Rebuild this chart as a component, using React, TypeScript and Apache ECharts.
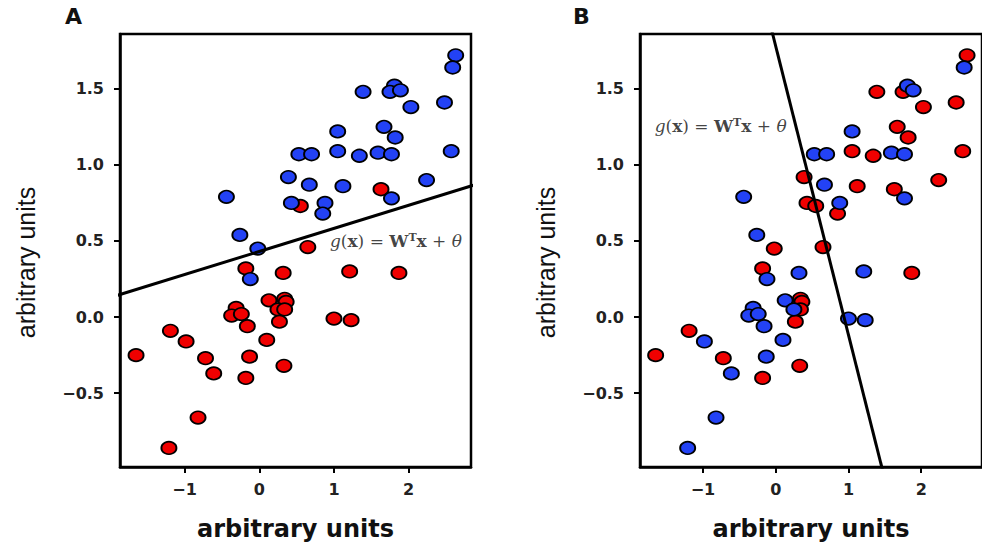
import React, { useEffect, useRef } from "react";
import * as echarts from "echarts";

// point coordinates (same points in both panels)
const xs = [
  2.63, 2.59, 1.39, 1.81, 1.75, 1.89, 2.48, 2.03, 1.05, 1.67, 1.82, 0.53, 0.70, 1.05, 1.34, 1.59, 1.77, 2.57,
  0.39, 0.67, 1.12, 2.24, 1.63, 1.77, -0.44, 0.43, 0.55, 0.88, 0.85, -0.26, -0.02, 0.65, -0.18, -0.12, 0.32,
  1.21, 1.87, 0.13, 0.34, 0.36, 0.25, 0.34, -0.31, -0.37, -0.24, -0.16, 0.27, 1.00, 1.23, -1.19, -0.98, -1.65,
  -0.72, -0.13, 0.10, -0.61, -0.18, 0.33, -0.82, -1.21,
];
const ys = [
  1.72, 1.64, 1.48, 1.52, 1.48, 1.49, 1.41, 1.38, 1.22, 1.25, 1.18, 1.07, 1.07, 1.09, 1.06, 1.08, 1.07, 1.09,
  0.92, 0.87, 0.86, 0.90, 0.84, 0.78, 0.79, 0.75, 0.73, 0.75, 0.68, 0.54, 0.45, 0.46, 0.32, 0.25, 0.29,
  0.30, 0.29, 0.11, 0.12, 0.10, 0.05, 0.05, 0.06, 0.01, 0.02, -0.06, -0.03, -0.01, -0.02, -0.09, -0.16, -0.25,
  -0.27, -0.26, -0.15, -0.37, -0.40, -0.32, -0.66, -0.86,
];
// class of each point in panel A and in panel B
const classA = [
  "b", "b", "b", "b", "b", "b", "b", "b", "b", "b", "b", "b", "b", "b", "b", "b", "b", "b",
  "b", "b", "b", "b", "r", "b", "b", "b", "r", "b", "b", "b", "b", "r", "r", "b", "r",
  "r", "r", "r", "r", "r", "r", "r", "r", "r", "r", "r", "r", "r", "r", "r", "r", "r",
  "r", "r", "r", "r", "r", "r", "r", "r",
];
const classB = [
  "r", "b", "r", "b", "r", "b", "r", "r", "b", "r", "r", "b", "b", "r", "r", "b", "b", "r",
  "r", "b", "r", "r", "r", "b", "b", "r", "r", "b", "r", "b", "r", "r", "r", "b", "b",
  "b", "r", "b", "r", "r", "b", "r", "b", "b", "b", "b", "r", "b", "b", "r", "b", "r",
  "r", "b", "b", "b", "r", "r", "b", "b",
];

// decision lines (end points)
const lineA = [[-2.0, 0.128], [3.0, 0.886]];
const lineB = [[-0.116, 2.0], [1.518, -1.1]];
// formula anchors
const noteA = [0.94, 0.5];
const noteB = [-1.67, 1.257];

const xTicks = [-1, 0, 1, 2];
const yTicks = [-0.5, 0, 0.5, 1, 1.5];
const xMin = -1.865, xMax = 2.835, yMin = -0.985, yMax = 1.86;
const panelLetters = ["A", "B"];
const axisTitle = "arbitrary units";

const RED = "#f00000";
const BLUE = "#2342f5";

export default function App() {
  const ref = useRef<HTMLDivElement>(null);
  useEffect(() => {
    if (!ref.current) return;
    const chart = echarts.init(ref.current, null, { renderer: "svg" });
    const lefts = [120, 640];
    const grids = lefts.map((l) => ({
      left: l, top: 34, width: 351, height: 437, show: true,
      borderColor: "#000", borderWidth: 2.5, backgroundColor: "transparent",
    }));
    const xAxes = lefts.map((_, i) => ({
      type: "value", gridIndex: i, min: xMin, max: xMax,
      axisLine: { show: true, onZero: false, lineStyle: { color: "#000", width: 2.5 } },
      axisTick: { show: true, length: 6, lineStyle: { color: "#000", width: 2 }, customValues: xTicks },
      axisLabel: {
        customValues: xTicks, margin: 14, fontFamily: "DejaVu Sans", fontWeight: "bold", fontSize: 16, color: "#222",
        formatter: (v: number) => String(v).replace("-", "\u2212"),
      },
      splitLine: { show: false },
      name: axisTitle, nameLocation: "middle", nameGap: 50,
      nameTextStyle: { fontFamily: "DejaVu Sans", fontWeight: "bold", fontSize: 24, color: "#111" },
    }));
    const yAxes = lefts.map((_, i) => ({
      type: "value", gridIndex: i, min: yMin, max: yMax,
      axisLine: { show: true, onZero: false, lineStyle: { color: "#000", width: 2.5 } },
      axisTick: { show: true, length: 6, lineStyle: { color: "#000", width: 2 }, customValues: yTicks },
      axisLabel: {
        customValues: yTicks, margin: 16, fontFamily: "DejaVu Sans", fontWeight: "bold", fontSize: 16, color: "#222",
        formatter: (v: number) => v.toFixed(1).replace("-", "\u2212"),
      },
      splitLine: { show: false },
      name: axisTitle, nameLocation: "middle", nameGap: 82,
      nameTextStyle: { fontFamily: "Liberation Sans", fontSize: 25, color: "#111", padding: [0, 24, 0, 0] },
    }));
    const rich = {
      i: { fontFamily: "DejaVu Serif", fontStyle: "italic", fontSize: 17, color: "#111" },
      n: { fontFamily: "DejaVu Serif", fontSize: 17, color: "#111" },
      b: { fontFamily: "DejaVu Serif", fontWeight: "bold", fontSize: 17, color: "#111" },
      s: { fontFamily: "DejaVu Serif", fontWeight: "bold", fontSize: 11, color: "#111", verticalAlign: "top" },
    };
    const formula = "{i|g}{n|(}{b|x}{n|) = }{b|W}{s|T}{b|x}{n| + }{i|\u03b8}";
    const series: any[] = [];
    const classes = [classA, classB];
    const lines = [lineA, lineB];
    const notes = [noteA, noteB];
    lefts.forEach((_, p) => {
      series.push({
        type: "line", xAxisIndex: p, yAxisIndex: p, data: lines[p], symbol: "none",
        lineStyle: { color: "#000", width: 3 }, clip: true, silent: true,
      });
      ["r", "b"].forEach((c) => {
        const pts: number[][] = [];
        xs.forEach((x, k) => { if (classes[p][k] === c) pts.push([x, ys[k]]); });
        series.push({
          type: "scatter", xAxisIndex: p, yAxisIndex: p, data: pts, symbol: "circle", symbolSize: [15, 12.5],
          itemStyle: { color: c === "r" ? RED : BLUE, borderColor: "#000", borderWidth: 1.8, opacity: 1 },
        });
      });
      series.push({
        type: "scatter", xAxisIndex: p, yAxisIndex: p, data: [notes[p]], symbolSize: 1,
        itemStyle: { color: "rgba(0,0,0,0)" }, silent: true, clip: false,
        label: { show: true, position: "right", distance: 0, formatter: formula, rich },
      });
    });
    chart.setOption({
      animation: false,
      backgroundColor: "#fff",
      title: panelLetters.map((t, i) => ({
        text: t, left: [65, 573][i], top: 5, padding: 0,
        textStyle: { fontFamily: "DejaVu Sans", fontWeight: "bold", fontSize: 22, color: "#111" },
      })),
      grid: grids,
      xAxis: xAxes,
      yAxis: yAxes,
      series,
    });
    return () => chart.dispose();
  }, []);
  return <div ref={ref} style={{ position: "fixed", left: 0, top: 0, width: 982, height: 546 }} />;
}
